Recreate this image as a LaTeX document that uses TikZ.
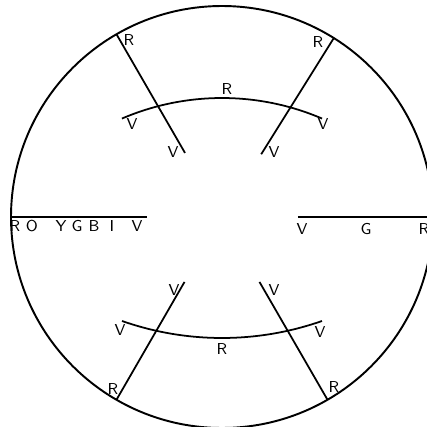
\documentclass[tikz,border=0pt]{standalone}
\usepackage{tikz}

\tikzset{
  lbl/.style={font=\sffamily\small, inner sep=0pt},
  ray/.style={line width=1pt},
}

\begin{document}
\begin{tikzpicture}
    \useasboundingbox (-4.44,-4.20) rectangle (4.10,4.34);
    \draw[line width=1.1pt] (0,0) circle (4.22);
    % spectra
    \coordinate (Lin) at (180:1.5);  \coordinate (Lout) at (180:4.22);
    \coordinate (Rin) at (0:1.52);   \coordinate (Rout) at (0:4.22);
    \coordinate (ULin) at (120:1.48); \coordinate (ULout) at (120:4.22);
    \coordinate (URin) at (58:1.48);  \coordinate (URout) at (58:4.22);
    \coordinate (LLin) at (240:1.5);  \coordinate (LLout) at (240:4.22);
    \coordinate (LRin) at (300:1.5);  \coordinate (LRout) at (300:4.22);
    \draw[ray] (Lin) -- (Lout);
    \draw[ray] (Rin) -- (Rout);
    \draw[ray] (ULin) -- (ULout);
    \draw[ray] (URin) -- (URout);
    \draw[ray] (LLin) -- (LLout);
    \draw[ray] (LRin) -- (LRout);
    % wavefronts
    \draw[ray] (0,-2.7) ++(113.2:5.08) arc (113.2:66.8:5.08);
    \draw[ray] (0,3.63) ++(250.7:6.05) arc (250.7:289.3:6.05);
    % labels
    \node[lbl] (l1) at (-4.14,-0.19) {R};
    \node[lbl] (l2) at (-3.80,-0.19) {O};
    \node[lbl] (l3) at (-3.22,-0.19) {Y};
    \node[lbl] (l4) at (-2.90,-0.19) {G};
    \node[lbl] (l5) at (-2.56,-0.19) {B};
    \node[lbl] (l6) at (-2.20,-0.19) {I};
    \node[lbl] (l7) at (-1.70,-0.19) {V};
    \node[lbl] (r1) at (1.60,-0.25) {V};
    \node[lbl] (r2) at (2.88,-0.25) {G};
    \node[lbl] (r3) at (4.04,-0.25) {R};
    \node[lbl] (ul1) at (-1.86,3.54) {R};
    \node[lbl] (ul2) at (-0.98,1.30) {V};
    \node[lbl] (ur1) at (1.92,3.50) {R};
    \node[lbl] (ur2) at (1.04,1.30) {V};
    \node[lbl] (ua1) at (-1.80,1.86) {V};
    \node[lbl] (ua2) at (0.10,2.56) {R};
    \node[lbl] (ua3) at (2.02,1.86) {V};
    \node[lbl] (ll1) at (-0.96,-1.46) {V};
    \node[lbl] (ll2) at (-2.18,-3.44) {R};
    \node[lbl] (lr1) at (1.04,-1.46) {V};
    \node[lbl] (lr2) at (2.24,-3.40) {R};
    \node[lbl] (la1) at (-2.04,-2.26) {V};
    \node[lbl] (la2) at (0.00,-2.64) {R};
    \node[lbl] (la3) at (1.96,-2.30) {V};
\end{tikzpicture}
\end{document}
